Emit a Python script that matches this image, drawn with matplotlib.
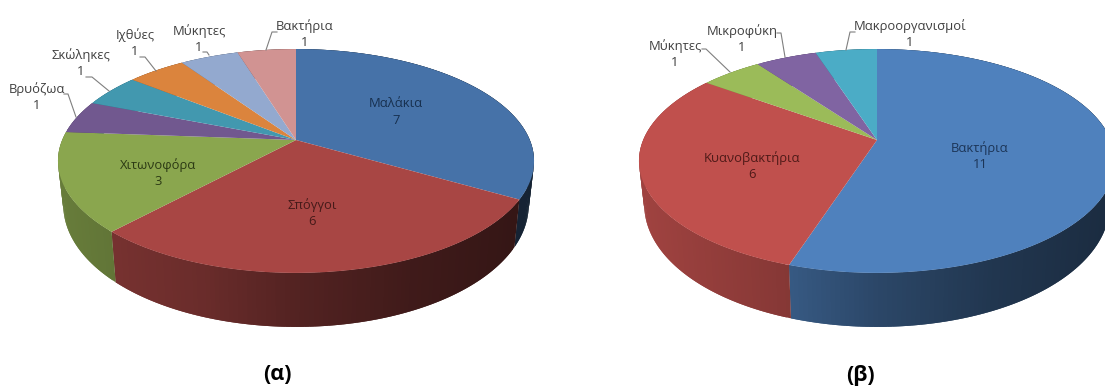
import numpy as np
import matplotlib
matplotlib.use("Agg")
from matplotlib import pyplot as plt
from matplotlib.collections import PolyCollection

# chart (a)
names_a = ["Μαλάκια", "Σπόγγοι", "Χιτωνοφόρα", "Βρυόζωα", "Σκώληκες", "Ιχθύες", "Μύκητες", "Βακτήρια"]
values_a = [7, 6, 3, 1, 1, 1, 1, 1]
colors_a = ["#4672a8", "#a84644", "#8aa64e", "#71588f", "#4298af", "#db843d", "#93a9cf", "#d19392"]
text_colors_a = ["#17304f", "#451a19", "#2c3a14", "#404040", "#404040", "#404040", "#404040", "#404040"]
label_pos_a = [(396, 112), (312, 213), (158, 173), (37, 97), (81, 63), (135, 43), (199, 39), (305, 34)]
leaders_a = [None, None, None,
             [(76, 117), (68, 94), (64, 94)],
             [(109, 91), (92, 77), (86, 77)],
             [(156, 71), (145, 57), (140, 57)],
             [(209, 55), (207, 52), (203, 52)],
             [(266, 50), (272, 32), (277, 32)]]

# chart (b)
names_b = ["Βακτήρια", "Κυανοβακτήρια", "Μύκητες", "Μικροφύκη", "Μακροοργανισμοί"]
values_b = [11, 6, 1, 1, 1]
colors_b = ["#4f81bd", "#c0504d", "#9bbb59", "#8064a2", "#4bacc6"]
text_colors_b = ["#1c3557", "#4f1a18", "#404040", "#404040", "#404040"]
label_pos_b = [(980, 156), (752, 166), (675, 54), (742, 39), (910, 34)]
leaders_b = [None, None,
             [(730, 72), (706, 49), (702, 49)],
             [(785, 57), (781, 33), (777, 33)],
             [(846, 50), (850, 32), (855, 32)]]

# shape of the tilted disc, in pixels
radius_x = 233.8
radius_y = 108
tilt = 0.1875
bottom_scale = 0.978


def rim(theta, cx, cy):
  u, v = np.sin(theta), np.cos(theta)
  w = 1 + tilt * v
  return cx + radius_x * u / w, cy - radius_y * v / w


def rim_bottom(theta, cx, cy):
  x, y = rim(theta, cx, cy)
  depth = 41 - 13 * np.cos(theta)
  return cx + (x - cx) * bottom_scale, y + depth


def shade(color, x, cx, dim):
  t = (x - cx) / radius_x
  f = np.interp(t, [-1, -0.4, 0, 0.5, 1], [0.83, 0.70, 0.55, 0.42, 0.34]) * dim
  return tuple(np.array(matplotlib.colors.to_rgb(color)) * f)


def draw_pie(ax, values, colors, cx, cy, dim):
  edges = np.cumsum([0] + values) / sum(values) * 2 * np.pi
  # side wall first, the top covers whatever is behind it
  for i in range(len(values)):
    steps = np.linspace(edges[i], edges[i + 1], max(int((edges[i + 1] - edges[i]) * 60), 3))
    quads = []
    quad_colors = []
    for j in range(len(steps) - 1):
      a = steps[j]
      # each strip runs into the next one so no seam shows between them
      b = steps[min(j + 2, len(steps) - 1)]
      xa, ya = rim(a, cx, cy)
      xb, yb = rim(b, cx, cy)
      xc, yc = rim_bottom(b, cx, cy)
      xd, yd = rim_bottom(a, cx, cy)
      quads.append([(xa, ya), (xb, yb), (xc, yc), (xd, yd)])
      quad_colors.append(shade(colors[i], (xa + rim(steps[j + 1], cx, cy)[0]) / 2, cx, dim))
    ax.add_collection(PolyCollection(quads, facecolors=quad_colors, edgecolors="none", linewidths=0, zorder=1))
  for i in range(len(values)):
    steps = np.linspace(edges[i], edges[i + 1], 200)
    xs, ys = rim(steps, cx, cy)
    ax.fill(np.r_[cx, xs], np.r_[cy, ys], color=colors[i], lw=0, zorder=2)


def draw_labels(ax, names, values, positions, text_colors, leaders):
  for name, value, pos, tc, leader in zip(names, values, positions, text_colors, leaders):
    ax.text(pos[0], pos[1], f"{name}\n{value}", ha="center", va="center", fontsize=9.4,
            color=tc, family="Open Sans", linespacing=1.35, zorder=4)
    if leader:
      ax.plot(*zip(*leader), color="#7f7f7f", lw=0.8, zorder=3)


fig = plt.figure(figsize=(11.05, 3.88), dpi=100)
ax = fig.add_axes([0, 0, 1, 1])
ax.set_xlim(0, 1105)
ax.set_ylim(388, 0)
ax.axis("off")

draw_pie(ax, values_a, colors_a, 296, 140, 0.9)
draw_pie(ax, values_b, colors_b, 877, 140, 1.0)
draw_labels(ax, names_a, values_a, label_pos_a, text_colors_a, leaders_a)
draw_labels(ax, names_b, values_b, label_pos_b, text_colors_b, leaders_b)

ax.text(277, 375, "(α)", ha="center", va="center", fontsize=15.5, fontweight="bold", color="black", family="Open Sans")
ax.text(860, 375, "(β)", ha="center", va="center", fontsize=15.5, fontweight="bold", color="black", family="Open Sans")

plt.savefig("out.png", dpi=100)
